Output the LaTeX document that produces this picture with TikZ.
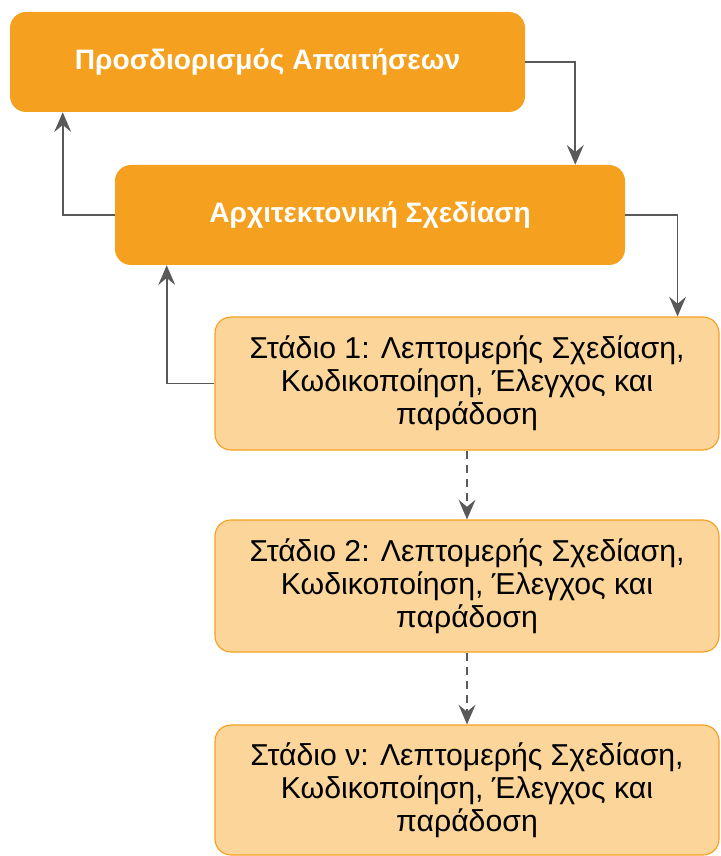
\documentclass[tikz,border=0pt]{standalone}
\usepackage{fontspec}
\setmainfont{Liberation Sans}
\usepackage{tikz}
\usetikzlibrary{arrows.meta}
\definecolor{darkorange}{HTML}{F5A01E}
\definecolor{lightorange}{HTML}{FCD59A}
\definecolor{linegray}{HTML}{595959}
\tikzstyle{phase} = [rectangle, rounded corners=0.4cm, fill=darkorange, text=white, font=\bfseries\fontsize{20}{24}\selectfont, minimum height=2.5cm, inner sep=0pt]
\tikzstyle{stage} = [rectangle, rounded corners=0.4cm, fill=lightorange, draw=darkorange, line width=0.8pt, align=center, font=\fontsize{21.5}{23.5}\selectfont, minimum width=12.6cm, inner sep=0pt]
\tikzstyle{arrow} = [line width=1.3pt, draw=linegray, -{Stealth[length=14pt,width=12pt,inset=5pt]}]
\tikzstyle{dasharrow} = [arrow, dash pattern=on 6pt off 4pt]

\begin{document}
\begin{tikzpicture}
\useasboundingbox (0,0) rectangle (18,-21.4);

\node[phase, minimum width=12.875cm] (req) at (6.6875,-1.55) {Προσδιορισμός Απαιτήσεων};
\node[phase, minimum width=12.75cm] (arch) at (9.25,-5.375) {Αρχιτεκτονική Σχεδίαση};

\node[stage, minimum height=3.325cm] (st1) at (11.675,-9.5875) {Στάδιο 1: Λεπτομερής Σχεδίαση,\\ Κωδικοποίηση, Έλεγχος και\\ παράδοση};
\node[stage, minimum height=3.3cm] (st2) at (11.675,-14.65) {Στάδιο 2: Λεπτομερής Σχεδίαση,\\ Κωδικοποίηση, Έλεγχος και\\ παράδοση};
\node[stage, minimum height=3.25cm] (stn) at (11.675,-19.75) {Στάδιο ν: Λεπτομερής Σχεδίαση,\\ Κωδικοποίηση, Έλεγχος και\\ παράδοση};

%feedback loops between the phases
\draw[arrow] (req.east) -| ([xshift=-1.25cm]arch.north east);
\draw[arrow] (arch.west) -| ([xshift=1.325cm]req.south west);
\draw[arrow] (arch.east) -| ([xshift=-1.05cm]st1.north east);
\draw[arrow] (st1.west) -| ([xshift=1.3cm]arch.south west);

\draw[dasharrow] (st1.south) -- (st2.north);
\draw[dasharrow] (st2.south) -- (stn.north);

\end{tikzpicture}
\end{document}
